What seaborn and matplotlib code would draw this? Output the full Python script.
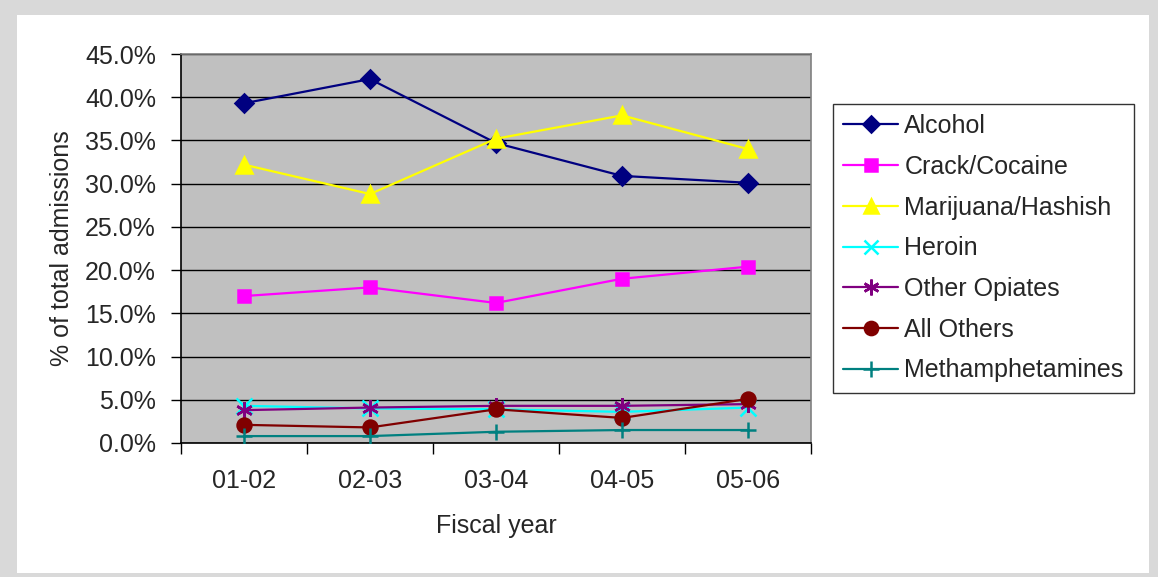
import matplotlib
matplotlib.use("Agg")
import matplotlib.pyplot as plt
from matplotlib.patches import Rectangle
from matplotlib.ticker import FixedLocator, FuncFormatter
import numpy as np
import pandas as pd
import seaborn as sns

# Share of total treatment admissions by primary substance (%)
years = ["01-02", "02-03", "03-04", "04-05", "05-06"]
alcohol = [39.3, 42.1, 34.7, 30.9, 30.1]
crack_cocaine = [17.0, 18.0, 16.2, 19.0, 20.4]
marijuana = [32.2, 28.8, 35.2, 37.9, 34.0]
heroin = [4.3, 4.0, 3.9, 3.6, 4.1]
other_opiates = [3.8, 4.1, 4.3, 4.3, 4.5]
all_others = [2.1, 1.8, 3.9, 2.9, 5.1]
meth = [0.8, 0.8, 1.3, 1.5, 1.5]

substances = ["Alcohol", "Crack/Cocaine", "Marijuana/Hashish", "Heroin",
              "Other Opiates", "All Others", "Methamphetamines"]
series = [alcohol, crack_cocaine, marijuana, heroin, other_opiates, all_others, meth]

df = pd.DataFrame({
    "year": np.tile(years, len(substances)),
    "x": np.tile(np.arange(len(years)), len(substances)),
    "substance": np.repeat(substances, len(years)),
    "share": np.concatenate(series),
})

palette = {
    "Alcohol": "#000080",
    "Crack/Cocaine": "#FF00FF",
    "Marijuana/Hashish": "#FFFF00",
    "Heroin": "#00FFFF",
    "Other Opiates": "#800080",
    "All Others": "#800000",
    "Methamphetamines": "#008080",
}
markers = {
    "Alcohol": "D",
    "Crack/Cocaine": "s",
    "Marijuana/Hashish": "^",
    "Heroin": "x",
    "Other Opiates": (6, 2, 0),
    "All Others": "o",
    "Methamphetamines": "+",
}
sizes = {"Alcohol": 9, "Crack/Cocaine": 9, "Marijuana/Hashish": 11, "Heroin": 11,
         "Other Opiates": 12, "All Others": 10, "Methamphetamines": 12}

sns.set_style("white")
plt.rcParams["font.family"] = ["Liberation Sans", "DejaVu Sans"]
FS = 18

W, H = 1158, 577
fig = plt.figure(figsize=(W / 100, H / 100), dpi=100)
fig.patch.set_facecolor("#d9d9d9")
fig.add_artist(Rectangle((17 / W, 4 / H), (1149 - 17) / W, (573 - 4 - 11) / H,
                         transform=fig.transFigure, facecolor="white",
                         edgecolor="none", zorder=0))

ax = fig.add_axes([181 / W, (H - 443) / H, (811 - 181) / W, (443 - 54) / H])
ax.set_facecolor("#c0c0c0")

for name in substances:
    sub = df[df["substance"] == name]
    sns.lineplot(data=sub, x="x", y="share", color=palette[name],
                 marker=markers[name], markersize=sizes[name],
                 markerfacecolor=palette[name], markeredgecolor=palette[name],
                 markeredgewidth=1.8, linewidth=1.6, ax=ax, legend=False,
                 zorder=3)

ax.set_xlim(-0.5, len(years) - 0.5)
ax.set_ylim(0, 45)
ax.yaxis.set_major_locator(FixedLocator(np.arange(0, 45.1, 5)))
ax.yaxis.set_major_formatter(FuncFormatter(lambda v, p: f"{v:.1f}%"))
ax.set_xticks(np.arange(len(years)))
ax.set_xticklabels(years)
ax.xaxis.set_minor_locator(FixedLocator(np.arange(-0.5, len(years), 1.0)))

ax.grid(axis="y", color="black", linewidth=1.0, zorder=1)
ax.set_axisbelow(True)
ax.tick_params(axis="y", which="major", direction="out", length=7, width=1,
               color="black", pad=11, labelsize=FS, left=True)
ax.tick_params(axis="x", which="major", length=0, pad=19, labelsize=FS)
ax.tick_params(axis="x", which="minor", direction="out", length=8, width=1,
               color="black", bottom=True)

for side in ("left", "bottom"):
    ax.spines[side].set_color("black")
    ax.spines[side].set_linewidth(1.2)
for side in ("top", "right"):
    ax.spines[side].set_color("#808080")
    ax.spines[side].set_linewidth(1.2)

ax.set_xlabel("Fiscal year", fontsize=FS, labelpad=15)
ax.set_ylabel("% of total admissions", fontsize=FS, labelpad=8)

handles = [plt.Line2D([], [], color=palette[n], marker=markers[n],
                      markersize=sizes[n] * 0.95, markeredgewidth=1.8,
                      markerfacecolor=palette[n], markeredgecolor=palette[n],
                      linewidth=1.6) for n in substances]
leg = fig.legend(handles, substances, loc="upper left",
                 bbox_to_anchor=(833 / W, 1 - 104 / H), fontsize=FS,
                 frameon=True, fancybox=False, edgecolor="black",
                 handlelength=2.2, handletextpad=0.25, labelspacing=0.67,
                 borderpad=0.4, borderaxespad=0)
leg.get_frame().set_linewidth(1.0)

fig.savefig("out.png", dpi=100, facecolor=fig.get_facecolor())
